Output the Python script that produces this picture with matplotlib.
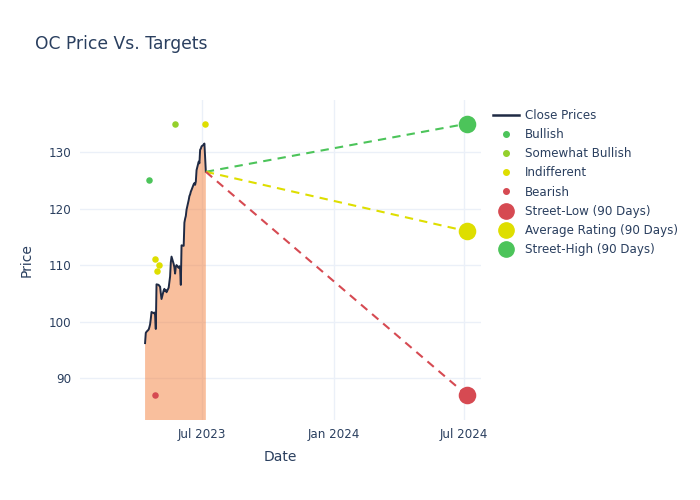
import matplotlib.pyplot as plt
import matplotlib.dates as mdates
from matplotlib.lines import Line2D
import pandas as pd

# datos de precios de cierre
close_dates = pd.bdate_range(end="2023-07-06", periods=62)
close_prices = [96.2, 98.0, 98.2, 98.6, 99.0, 99.5, 100.5, 101.7, 101.5, 101.6,
                101.2, 98.7, 106.6, 106.5, 106.3, 106.2, 105.0, 104.0, 105.5, 105.8,
                105.4, 105.6, 105.2, 106.0, 107.0, 108.0, 110.5, 111.5, 110.2, 109.6,
                108.5, 109.7, 110.0, 109.5, 109.8, 109.4, 106.5, 113.5, 113.4, 117.5,
                118.2, 118.7, 119.8, 121.5, 122.2, 122.5, 123.0, 123.3, 124.3, 124.5,
                124.2, 124.8, 126.8, 128.3, 128.0, 130.4, 130.6, 131.0, 131.3, 131.5,
                129.0, 126.5]

# calificaciones de analistas
bullish_dates = ["2023-04-18"]
bullish_vals = [125]
somewhat_dates = ["2023-05-24"]
somewhat_vals = [135]
indiff_dates = ["2023-04-26", "2023-04-28", "2023-05-01", "2023-07-05"]
indiff_vals = [111, 109, 110, 135]
bearish_dates = ["2023-04-26"]
bearish_vals = [87]

# objetivos a 90 dias
target_date = "2024-07-05"
street_low = 87
avg_rating = 116
street_high = 135

c_text = "#2a3f5f"
c_grid = "#ebf0f8"
c_green = "#4cc45a"
c_lgreen = "#94d02c"
c_yellow = "#dede00"
c_red = "#d64a52"

plt.rcParams['font.family'] = ['DejaVu Sans']
fig = plt.figure(figsize=(7, 5), dpi=100)
ax = fig.add_axes([0.1143, 0.16, 0.573, 0.64])

cd = pd.to_datetime(close_dates)
ax.fill_between(cd, close_prices, 0, color=(244/255, 128/255, 60/255), alpha=0.5,
                linewidth=0, zorder=2)
ax.plot(cd, close_prices, color="#1f2a44", linewidth=1.4, zorder=3)

last_d = cd[-1]
last_p = close_prices[-1]
td = pd.to_datetime(target_date)
ax.plot([last_d, td], [last_p, street_high], color=c_green, linestyle=(0, (4, 3)), lw=1.5, zorder=3)
ax.plot([last_d, td], [last_p, avg_rating], color=c_yellow, linestyle=(0, (4, 3)), lw=1.5, zorder=3)
ax.plot([last_d, td], [last_p, street_low], color=c_red, linestyle=(0, (4, 3)), lw=1.5, zorder=3)

ax.scatter(pd.to_datetime(bullish_dates), bullish_vals, s=22, color=c_green, zorder=4, linewidths=0)
ax.scatter(pd.to_datetime(somewhat_dates), somewhat_vals, s=22, color=c_lgreen, zorder=4, linewidths=0)
ax.scatter(pd.to_datetime(indiff_dates), indiff_vals, s=22, color=c_yellow, zorder=4, linewidths=0)
ax.scatter(pd.to_datetime(bearish_dates), bearish_vals, s=22, color=c_red, zorder=4, linewidths=0)

ax.scatter([td], [street_low], s=160, color=c_red, zorder=5, linewidths=0)
ax.scatter([td], [avg_rating], s=160, color=c_yellow, zorder=5, linewidths=0)
ax.scatter([td], [street_high], s=160, color=c_green, zorder=5, linewidths=0)

ax.set_xlim(pd.Timestamp("2023-01-11"), pd.Timestamp("2024-07-25"))
ax.set_ylim(82.6, 139.2)
ax.set_yticks([90, 100, 110, 120, 130])
ax.xaxis.set_major_locator(mdates.MonthLocator(bymonth=[1, 7]))
ax.xaxis.set_major_formatter(mdates.DateFormatter("%b %Y"))
ax.grid(True, color=c_grid, linewidth=1, zorder=0)
ax.set_axisbelow(True)
for s in ax.spines.values():
    s.set_visible(False)
ax.tick_params(length=0, colors=c_text, labelsize=8.6, pad=6)
ax.set_xlabel("Date", color=c_text, fontsize=10, labelpad=6)
ax.set_ylabel("Price", color=c_text, fontsize=10, labelpad=11)

fig.text(0.05, 0.912, "OC Price Vs. Targets", color=c_text, fontsize=12.3, va="center")

handles = [
    Line2D([], [], color="#1f2a44", lw=1.8),
    Line2D([], [], marker="o", ls="", color=c_green, ms=4),
    Line2D([], [], marker="o", ls="", color=c_lgreen, ms=4),
    Line2D([], [], marker="o", ls="", color=c_yellow, ms=4),
    Line2D([], [], marker="o", ls="", color=c_red, ms=4),
    Line2D([], [], marker="o", ls="", color=c_red, ms=11),
    Line2D([], [], marker="o", ls="", color=c_yellow, ms=11),
    Line2D([], [], marker="o", ls="", color=c_green, ms=11),
]
labels = ["Close Prices", "Bullish", "Somewhat Bullish", "Indifferent", "Bearish",
          "Street-Low (90 Days)", "Average Rating (90 Days)", "Street-High (90 Days)"]
leg = fig.legend(handles, labels, loc="upper left", bbox_to_anchor=(0.697, 0.792),
                 frameon=False, fontsize=8.6, labelspacing=0.52, handlelength=2.2,
                 handletextpad=0.5, borderaxespad=0)
for t in leg.get_texts():
    t.set_color(c_text)

fig.savefig("out.png", dpi=100)
